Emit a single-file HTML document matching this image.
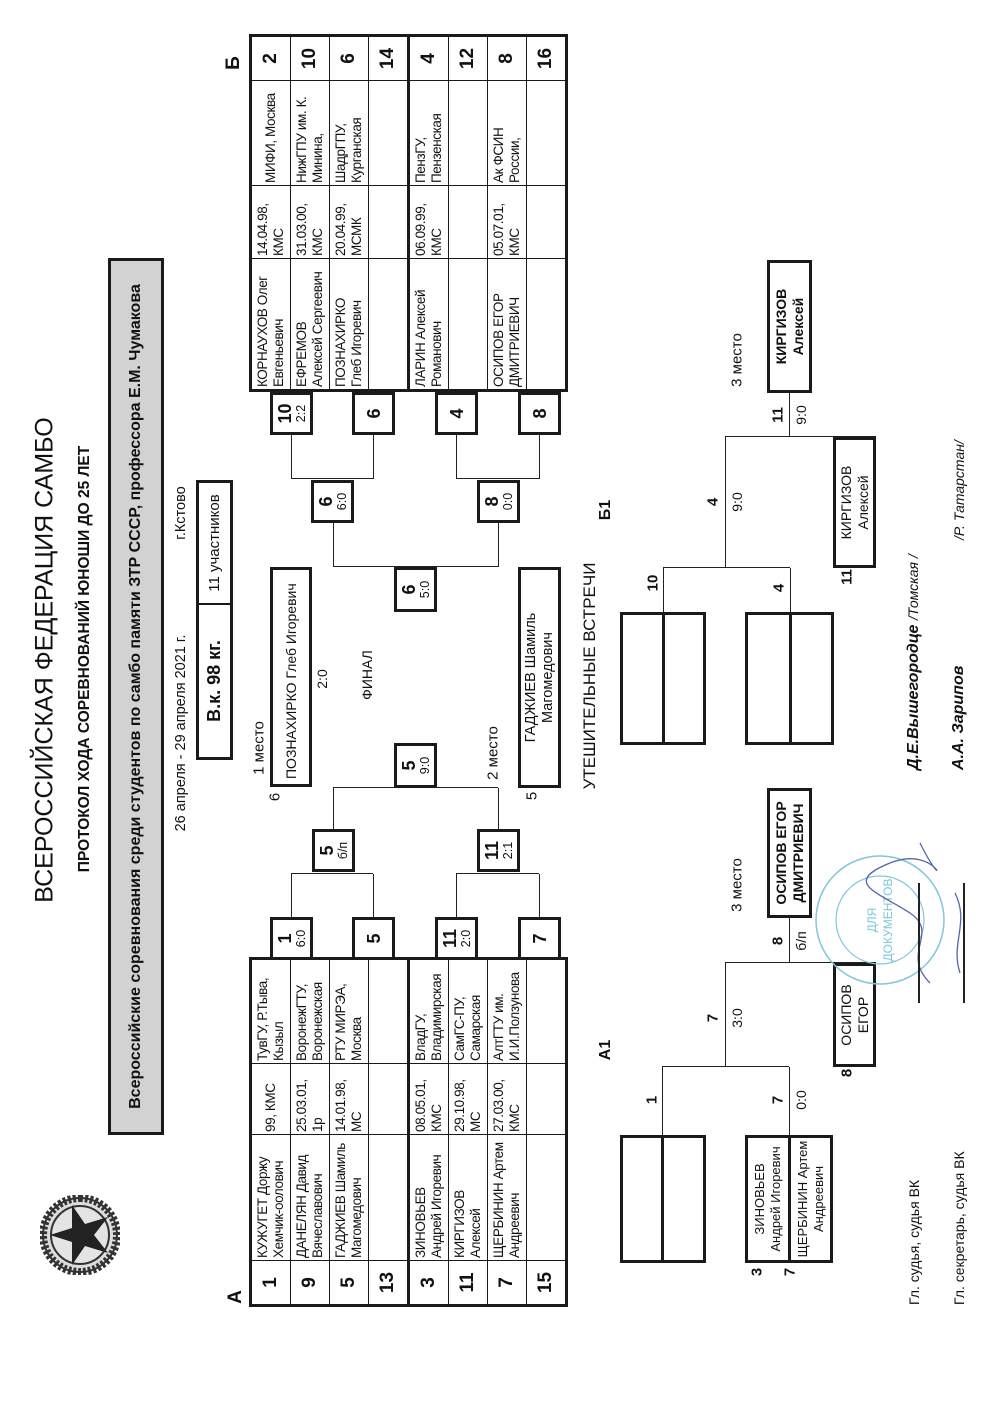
<!DOCTYPE html>
<html><head><meta charset="utf-8">
<style>
html,body{margin:0;padding:0;background:#fff;}
body{width:1000px;height:1403px;overflow:hidden;position:relative;}
#L{position:absolute;left:0;top:0;width:1403px;height:1000px;transform-origin:0 0;transform:translateY(1403px) rotate(-90deg);font-family:"Liberation Sans",Arial,sans-serif;color:#111;}
.a{position:absolute;}
.c{position:absolute;transform:translate(-50%,-50%);white-space:nowrap;}
.h{position:absolute;height:0;border-top:1.6px solid #222;}
.v{position:absolute;width:0;border-left:1.6px solid #222;}
.bx{position:absolute;box-sizing:border-box;border:3px solid #1a1a1a;background:#fff;display:flex;flex-direction:column;align-items:center;justify-content:center;line-height:1;}
.bx b{font-size:18px;}
.bx i{font-style:normal;font-size:12.5px;margin-top:1px;}
table.t{position:absolute;border-collapse:collapse;table-layout:fixed;border:3px solid #1a1a1a;}
table.t td{border:1.5px solid #1a1a1a;height:38px;padding:0 2px;font-size:13.5px;line-height:16px;vertical-align:middle;overflow:hidden;white-space:nowrap;letter-spacing:-0.4px;}
table.t td.n{text-align:center;font-weight:bold;font-size:19px;letter-spacing:0;}
table.t tr.g td{border-bottom:3px solid #1a1a1a;}
.nb{position:absolute;box-sizing:border-box;border:3px solid #1a1a1a;background:#fff;font-size:14px;line-height:17px;display:flex;align-items:center;justify-content:center;text-align:center;white-space:nowrap;}
.sm{font-size:14px;}
</style></head><body>
<div id="L">

<div class="c" style="left:743px;top:45px;font-size:25px;">ВСЕРОССИЙСКАЯ ФЕДЕРАЦИЯ САМБО</div>
<div class="c" style="left:744px;top:85px;font-size:15.5px;font-weight:bold;">ПРОТОКОЛ ХОДА СОРЕВНОВАНИЙ ЮНОШИ ДО 25 ЛЕТ</div>
<div class="a" style="left:268px;top:108px;width:877px;height:56px;box-sizing:border-box;border:3px solid #1a1a1a;background:#d2d2d2;display:flex;align-items:center;justify-content:center;font-weight:bold;font-size:16px;white-space:nowrap;">Всероссийские соревнования среди студентов по самбо памяти ЗТР СССР, профессора Е.М. Чумакова</div>
<div class="c" style="left:670px;top:181px;font-size:14.5px;">26 апреля - 29 апреля 2021 г.</div>
<div class="c" style="left:890px;top:181px;font-size:14.5px;">г.Кстово</div>
<div class="a" style="left:643px;top:196px;width:280px;height:37px;box-sizing:border-box;border:3px solid #1a1a1a;display:flex;">
 <div style="width:152px;border-right:2px solid #1a1a1a;display:flex;align-items:center;justify-content:center;font-weight:bold;font-size:18px;">В.к. 98 кг.</div>
 <div style="flex:1;display:flex;align-items:center;justify-content:center;font-size:15px;">11 участников</div>
</div>
<svg class="a" style="left:128px;top:40px;" width="80" height="80" viewBox="0 0 80 80">
 <circle cx="40" cy="40" r="37" fill="#ddd" stroke="#333" stroke-width="2"/>
 <circle cx="40" cy="40" r="37" fill="none" stroke="#333" stroke-width="8" stroke-dasharray="3 2"/>
 <circle cx="40" cy="40" r="29" fill="#e4e4e4" stroke="#333" stroke-width="2"/>
 <polygon points="40,10 47,32 70,32 51,45 58,68 40,54 22,68 29,45 10,32 33,32" fill="#222"/>
</svg>

<div class="c" style="left:106px;top:236px;font-size:19px;font-weight:bold;">А</div>
<div class="c" style="left:1340px;top:234px;font-size:19px;font-weight:bold;">Б</div>

<table class="t" style="left:96px;top:249px;width:347px;">
<colgroup><col style="width:45px"><col style="width:126px"><col style="width:71px"><col style="width:105px"></colgroup>
<tr><td class="n">1</td><td>КУЖУГЕТ Доржу<br>Хемчик-оолович</td><td>99, КМС</td><td>ТувГУ, Р.Тыва,<br>Кызыл</td></tr>
<tr><td class="n">9</td><td>ДАНЕЛЯН Давид<br>Вячеславович</td><td>25.03.01,<br>1р</td><td>ВоронежГТУ,<br>Воронежская</td></tr>
<tr><td class="n">5</td><td>ГАДЖИЕВ Шамиль<br>Магомедович</td><td>14.01.98,<br>МС</td><td>РТУ МИРЭА,<br>Москва</td></tr>
<tr class="g"><td class="n">13</td><td></td><td></td><td></td></tr>
<tr><td class="n">3</td><td>ЗИНОВЬЕВ<br>Андрей Игоревич</td><td>08.05.01,<br>КМС</td><td>ВладГУ,<br>Владимирская</td></tr>
<tr><td class="n">11</td><td>КИРГИЗОВ<br>Алексей</td><td>29.10.98,<br>МС</td><td>СамГС-ПУ,<br>Самарская</td></tr>
<tr><td class="n">7</td><td>ЩЕРБИНИН Артем<br>Андреевич</td><td>27.03.00,<br>КМС</td><td>АлтГТУ им.<br>И.И.Ползунова</td></tr>
<tr><td class="n">15</td><td></td><td></td><td></td></tr>
</table>

<table class="t" style="left:1011px;top:249px;width:355px;">
<colgroup><col style="width:132px"><col style="width:73px"><col style="width:105px"><col style="width:45px"></colgroup>
<tr><td>КОРНАУХОВ Олег<br>Евгеньевич</td><td>14.04.98,<br>КМС</td><td>МИФИ, Москва</td><td class="n">2</td></tr>
<tr><td>ЕФРЕМОВ<br>Алексей Сергеевич</td><td>31.03.00,<br>КМС</td><td>НижГПУ им. К.<br>Минина,</td><td class="n">10</td></tr>
<tr><td>ПОЗНАХИРКО<br>Глеб Игоревич</td><td>20.04.99,<br>МСМК</td><td>ШадрГПУ,<br>Курганская</td><td class="n">6</td></tr>
<tr class="g"><td></td><td></td><td></td><td class="n">14</td></tr>
<tr><td>ЛАРИН Алексей<br>Романович</td><td>06.09.99,<br>КМС</td><td>ПензГУ,<br>Пензенская</td><td class="n">4</td></tr>
<tr><td></td><td></td><td></td><td class="n">12</td></tr>
<tr><td>ОСИПОВ ЕГОР<br>ДМИТРИЕВИЧ</td><td>05.07.01,<br>КМС</td><td>Ак ФСИН<br>России,</td><td class="n">8</td></tr>
<tr><td></td><td></td><td></td><td class="n">16</td></tr>
</table>

<div class="h" style="left:486px;top:291px;width:43px"></div>
<div class="h" style="left:486px;top:373px;width:43px"></div>
<div class="h" style="left:486px;top:456px;width:43px"></div>
<div class="h" style="left:486px;top:539px;width:43px"></div>
<div class="v" style="left:529px;top:291px;height:82px"></div>
<div class="v" style="left:529px;top:456px;height:83px"></div>
<div class="bx" style="left:443px;top:270px;width:43px;height:43px"><b>1</b><i>6:0</i></div>
<div class="bx" style="left:443px;top:352px;width:43px;height:43px"><b>5</b></div>
<div class="bx" style="left:443px;top:435px;width:43px;height:43px"><b>11</b><i>2:0</i></div>
<div class="bx" style="left:443px;top:518px;width:43px;height:43px"><b>7</b></div>
<div class="h" style="left:574px;top:333px;width:41px"></div>
<div class="h" style="left:574px;top:498px;width:41px"></div>
<div class="v" style="left:615px;top:333px;height:165px"></div>
<div class="bx" style="left:531px;top:312px;width:43px;height:43px"><b>5</b><i>б/п</i></div>
<div class="bx" style="left:531px;top:477px;width:43px;height:43px"><b>11</b><i>2:1</i></div>
<div class="bx" style="left:615px;top:394px;width:45px;height:43px"><b>5</b><i>9:0</i></div>

<div class="h" style="left:924px;top:291px;width:44px"></div>
<div class="h" style="left:924px;top:373px;width:44px"></div>
<div class="h" style="left:924px;top:456px;width:44px"></div>
<div class="h" style="left:924px;top:539px;width:44px"></div>
<div class="v" style="left:924px;top:291px;height:82px"></div>
<div class="v" style="left:924px;top:456px;height:83px"></div>
<div class="bx" style="left:968px;top:270px;width:43px;height:43px"><b>10</b><i>2:2</i></div>
<div class="bx" style="left:968px;top:352px;width:43px;height:43px"><b>6</b></div>
<div class="bx" style="left:968px;top:435px;width:43px;height:43px"><b>4</b></div>
<div class="bx" style="left:968px;top:518px;width:43px;height:43px"><b>8</b></div>
<div class="h" style="left:836px;top:333px;width:44px"></div>
<div class="h" style="left:836px;top:498px;width:44px"></div>
<div class="v" style="left:836px;top:333px;height:165px"></div>
<div class="bx" style="left:880px;top:311px;width:43px;height:43px"><b>6</b><i>6:0</i></div>
<div class="bx" style="left:880px;top:477px;width:43px;height:43px"><b>8</b><i>0:0</i></div>
<div class="bx" style="left:791px;top:394px;width:45px;height:43px"><b>6</b><i>5:0</i></div>

<div class="nb" style="left:616px;top:270px;width:220px;height:42px;justify-content:flex-start;padding-left:5px;font-size:14px;">ПОЗНАХИРКО Глеб Игоревич</div>
<div class="c sm" style="left:655px;top:259px;font-size:15px;">1 место</div>
<div class="c sm" style="left:606px;top:275px;font-size:15px;">6</div>
<div class="c sm" style="left:724px;top:322px;">2:0</div>
<div class="c sm" style="left:728px;top:367px;">ФИНАЛ</div>
<div class="c sm" style="left:650px;top:493px;font-size:15px;">2 место</div>
<div class="nb" style="left:615px;top:518px;width:221px;height:43px;font-size:14.5px;">ГАДЖИЕВ Шамиль<br>Магомедович</div>
<div class="c sm" style="left:607px;top:532px;font-size:15px;">5</div>
<div class="c" style="left:727px;top:590px;font-size:17px;">УТЕШИТЕЛЬНЫЕ ВСТРЕЧИ</div>

<div class="c" style="left:893px;top:606px;font-size:16px;font-weight:bold;">Б1</div>
<div class="nb" style="left:658px;top:620px;width:133px;height:86px;background:transparent;"></div>
<div class="h" style="left:658px;top:662px;width:133px;border-top:3px solid #1a1a1a;"></div>
<div class="nb" style="left:658px;top:745px;width:133px;height:89px;background:transparent;"></div>
<div class="h" style="left:658px;top:789px;width:133px;border-top:3px solid #1a1a1a;"></div>
<div class="h" style="left:791px;top:663px;width:44px"></div>
<div class="h" style="left:791px;top:790px;width:44px"></div>
<div class="v" style="left:835px;top:663px;height:127px"></div>
<div class="c" style="left:820px;top:653px;font-size:15px;font-weight:bold;">10</div>
<div class="c" style="left:815px;top:779px;font-size:15px;font-weight:bold;">4</div>
<div class="h" style="left:835px;top:725px;width:131px"></div>
<div class="c" style="left:901px;top:713px;font-size:15px;font-weight:bold;">4</div>
<div class="c sm" style="left:901px;top:737px;">9:0</div>
<div class="v" style="left:966px;top:725px;height:151px"></div>
<div class="nb" style="left:835px;top:833px;width:131px;height:43px;">КИРГИЗОВ<br>Алексей</div>
<div class="c" style="left:826px;top:847px;font-size:15px;font-weight:bold;">11</div>
<div class="h" style="left:966px;top:789px;width:44px"></div>
<div class="c" style="left:988px;top:778px;font-size:15px;font-weight:bold;">11</div>
<div class="c sm" style="left:988px;top:801px;">9:0</div>
<div class="c sm" style="left:1043px;top:737px;font-size:15px;">3 место</div>
<div class="nb" style="left:1010px;top:767px;width:133px;height:45px;font-weight:bold;">КИРГИЗОВ<br>Алексей</div>

<div class="c" style="left:353px;top:606px;font-size:16px;font-weight:bold;">А1</div>
<div class="nb" style="left:140px;top:620px;width:128px;height:86px;background:transparent;"></div>
<div class="h" style="left:140px;top:661px;width:128px;border-top:3px solid #1a1a1a;"></div>
<div class="nb" style="left:140px;top:745px;width:128px;height:88px;background:transparent;"></div>
<div class="h" style="left:140px;top:788px;width:128px;border-top:3px solid #1a1a1a;"></div>
<div class="a" style="left:140px;top:747px;width:128px;height:41px;font-size:13px;line-height:16px;text-align:center;display:flex;flex-direction:column;justify-content:center;">ЗИНОВЬЕВ<br>Андрей Игоревич</div>
<div class="a" style="left:140px;top:790px;width:128px;height:41px;font-size:13px;line-height:16px;text-align:center;display:flex;flex-direction:column;justify-content:center;">ЩЕРБИНИН Артем<br>Андреевич</div>
<div class="c" style="left:131px;top:757px;font-size:15px;font-weight:bold;">3</div>
<div class="c" style="left:131px;top:790px;font-size:15px;font-weight:bold;">7</div>
<div class="h" style="left:268px;top:662px;width:68px"></div>
<div class="h" style="left:268px;top:789px;width:68px"></div>
<div class="v" style="left:336px;top:662px;height:127px"></div>
<div class="c" style="left:303px;top:652px;font-size:15px;font-weight:bold;">1</div>
<div class="c" style="left:303px;top:778px;font-size:15px;font-weight:bold;">7</div>
<div class="c sm" style="left:303px;top:801px;">0:0</div>
<div class="h" style="left:336px;top:725px;width:104px"></div>
<div class="c" style="left:385px;top:713px;font-size:15px;font-weight:bold;">7</div>
<div class="c sm" style="left:385px;top:737px;">3:0</div>
<div class="v" style="left:440px;top:725px;height:151px"></div>
<div class="nb" style="left:336px;top:833px;width:104px;height:43px;">ОСИПОВ<br>ЕГОР</div>
<div class="c" style="left:330px;top:847px;font-size:15px;font-weight:bold;">8</div>
<div class="h" style="left:440px;top:789px;width:45px"></div>
<div class="c" style="left:462px;top:778px;font-size:15px;font-weight:bold;">8</div>
<div class="c sm" style="left:462px;top:801px;">б/п</div>
<div class="c sm" style="left:518px;top:737px;font-size:15px;">3 место</div>
<div class="nb" style="left:485px;top:767px;width:130px;height:45px;font-weight:bold;">ОСИПОВ ЕГОР<br>ДМИТРИЕВИЧ</div>

<svg class="a" style="left:400px;top:800px;" width="180" height="180" viewBox="0 0 180 180">
 <circle cx="83" cy="80" r="64" fill="none" stroke="#7fc6dc" stroke-width="1.5"/>
 <circle cx="83" cy="80" r="44" fill="none" stroke="#7fc6dc" stroke-width="1.2"/>
 <text x="83" y="76" font-family="Liberation Sans" font-size="12" fill="#7fc6dc" text-anchor="middle">ДЛЯ</text>
 <text x="83" y="92" font-family="Liberation Sans" font-size="12" fill="#7fc6dc" text-anchor="middle">ДОКУМЕНТОВ</text>
 <path d="M20 130 C50 100 70 140 90 110 S120 40 140 90 S100 150 160 120" fill="none" stroke="#5566aa" stroke-width="1.3"/>
 <path d="M30 160 C60 150 80 170 110 155" fill="none" stroke="#5566aa" stroke-width="1.3"/>
</svg>
<div class="h" style="left:400px;top:918px;width:120px;border-top:2px solid #222;"></div>
<div class="h" style="left:400px;top:963px;width:120px;border-top:2px solid #222;"></div>

<div class="a" style="left:98px;top:906px;font-size:14px;white-space:nowrap;">Гл. судья, судья ВК</div>
<div class="a" style="left:98px;top:951px;font-size:14px;white-space:nowrap;">Гл. секретарь, судья ВК</div>
<div class="a" style="left:633px;top:905px;white-space:nowrap;"><b><i style="font-size:16px;">Д.Е.Вышегородце</i></b> <i style="font-size:14px;">/Томская /</i></div>
<div class="a" style="left:633px;top:950px;white-space:nowrap;"><b><i style="font-size:16px;">А.А. Зарипов</i></b></div>
<div class="a" style="left:863px;top:951px;white-space:nowrap;"><i style="font-size:14px;">/Р. Татарстан/</i></div>

</div>
</body></html>
